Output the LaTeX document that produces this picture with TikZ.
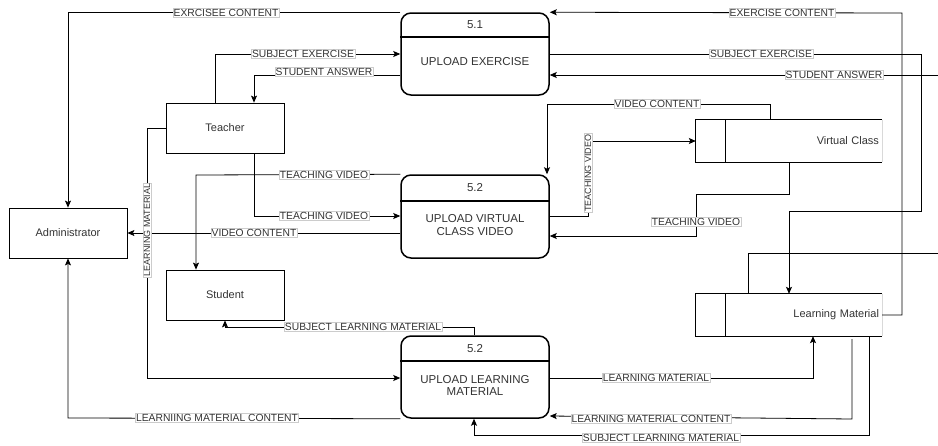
\documentclass[tikz,border=0pt]{standalone}
\usepackage{fontspec}
\setmainfont{Liberation Sans}
\usetikzlibrary{arrows.meta}
\definecolor{txt}{HTML}{333333}
\tikzset{
  proc/.style={draw, line width=1.5pt, rounded corners=10pt, minimum width=148pt, minimum height=82pt, inner sep=0pt},
  ent/.style={draw, line width=0.8pt, minimum width=118pt, minimum height=50pt, inner sep=0pt, font=\fontsize{11}{13}\selectfont, text=txt},
  store/.style={minimum width=186pt, minimum height=42pt, inner sep=3pt, text width=180pt, align=right, font=\fontsize{11}{13}\selectfont, text=txt},
  ptext/.style={font=\fontsize{11.5}{12.5}\selectfont, text=txt, align=center, inner sep=0pt},
  flow/.style={draw, line width=0.8pt, -{Stealth[length=7pt,width=6pt,inset=1.5pt]}},
  plain/.style={draw, line width=0.8pt},
  lbl/.style={fill=white, draw=gray!40, line width=0.4pt, inner sep=0.8pt, font=\fontsize{10.3}{11}\selectfont, text=txt},
  vlbl/.style={lbl, rotate=90, font=\fontsize{9}{10}\selectfont},
}
\begin{document}
\begin{tikzpicture}[x=1pt,y=-1pt]
\useasboundingbox (0,0) rectangle (938,445);
% entities
\node[ent] (teacher) at (225,128) {Teacher};
\node[ent] (admin) at (68,233) {Administrator};
\node[ent] (student) at (225,295) {Student};
% processes
\node[proc] (p51) at (475,54) {};
\draw[line width=1.5pt] (p51.west |- 0,37) -- (p51.east |- 0,37);
\node[ptext] (p51n) at (475,25) {5.1};
\node[ptext] (p51t) at (475,62) {UPLOAD EXERCISE};
\node[proc, minimum height=83pt] (p52v) at (475,216.5) {};
\draw[line width=1.5pt] (p52v.west |- 0,201) -- (p52v.east |- 0,201);
\node[ptext] (p52vn) at (475,188) {5.2};
\node[ptext] (p52vt) at (475,225) {UPLOAD VIRTUAL\\CLASS VIDEO};
\node[proc] (p52l) at (475,377) {};
\draw[line width=1.5pt] (p52l.west |- 0,361) -- (p52l.east |- 0,361);
\node[ptext] (p52ln) at (475,349) {5.2};
\node[ptext] (p52lt) at (475,385.5) {UPLOAD LEARNING\\MATERIAL};
% data stores
\node[store] (vc) at (789,141) {Virtual Class};
\draw[plain] (vc.north east) -- (vc.north west) -- (vc.south west) -- (vc.south east);
\draw[gray!30, line width=0.6pt] (vc.north east) -- (vc.south east);
\draw[plain] (725,0 |- vc.north) -- (725,0 |- vc.south);
\node[store] (lm) at (789,315) {Learning Material};
\draw[plain] (lm.north east) -- (lm.north west) -- (lm.south west) -- (lm.south east);
\draw[gray!30, line width=0.6pt] (lm.north east) -- (lm.south east);
\draw[plain] (725,0 |- lm.north) -- (725,0 |- lm.south);
% free ends at the right border
\coordinate (saR) at (938,75);
\coordinate (exR) at (938,253);
% connectors
\draw[flow] (p51.north west) -- (admin.north |- p51.north west) -- (admin.north);
\node[lbl] (l1) at (226,13) {EXRCISEE CONTENT};
\draw[flow] (215,0 |- teacher.north) -- (215,54) -- (p51.west);
\node[lbl] (l2) at (303,54) {SUBJECT EXERCISE};
\draw[flow] (p51.west |- 0,75) -- (254,75) -- (254,0 |- teacher.north);
\node[lbl] (l3) at (324,71.5) {STUDENT ANSWER};
\draw[flow] (lm.east) -- (902,315) -- (902,13) -- (p51.north east);
\node[lbl] (l4) at (782,13) {EXERCISE CONTENT};
\draw[flow] (p51.east) -- (921,54) -- (921,211) -- (789,211) -- (lm.north);
\node[lbl] (l5) at (761,54) {SUBJECT EXERCISE};
\draw[flow] (saR) -- (p51.east |- saR);
\node[lbl] (l6) at (834,75) {STUDENT ANSWER};
\draw[plain] (exR) -- (748,253) -- (748,0 |- lm.north);
\draw[flow] (770,0 |- vc.north) -- (770,104) -- (547,104) -- (547,0 |- p52v.north);
\node[lbl] (l7) at (657,104) {VIDEO CONTENT};
\draw[flow] (p52v.east |- 0,216) -- (588,216) -- (588,141) -- (vc.west);
\node[vlbl] (l8) at (588,173) {TEACHING VIDEO};
\draw[flow] (vc.south) -- (789,194) -- (696,194) -- (696,236) -- (p52v.east |- 0,236);
\node[lbl] (l9) at (696,222) {TEACHING VIDEO};
\draw[flow] (254,0 |- teacher.south) -- (254,216) -- (p52v.west |- 0,216);
\node[lbl] (l10) at (324,216) {TEACHING VIDEO};
\draw[flow] (p52v.north west) -- (196,175) -- (196,0 |- student.north);
\node[lbl] (l11) at (324,175) {TEACHING VIDEO};
\draw[flow] (p52v.west |- 0,233) -- (admin.east |- 0,233);
\node[lbl] (l12) at (254,233) {VIDEO CONTENT};
\draw[flow] (teacher.west) -- (147,128) -- (147,378) -- (p52l.west |- 0,378);
\node[vlbl] (l13) at (147,230) {LEARNING MATERIAL};
\draw[flow] (474,0 |- p52l.north) -- (474,327) -- (225,327) -- (student.south);
\node[lbl] (l14) at (363,327) {SUBJECT LEARNING MATERIAL};
\draw[flow] (p52l.south west) -- (68,418) -- (admin.south);
\node[lbl] (l15) at (217,418) {LEARNIING MATERIAL CONTENT};
\draw[flow] (p52l.east |- 0,378) -- (813,378) -- (813,0 |- lm.south);
\node[lbl] (l16) at (656,378) {LEARNING MATERIAL};
\draw[flow] (852,339) -- (852,419) -- (p52l.east |- 0,416);
\node[lbl] (l17) at (651,419) {LEARNING MATERIAL CONTENT};
\draw[flow] (869,0 |- lm.south) -- (869,435) -- (474,435) -- (474,0 |- p52l.south);
\node[lbl] (l18) at (661,438) {SUBJECT LEARNING MATERIAL};
\end{tikzpicture}
\end{document}
